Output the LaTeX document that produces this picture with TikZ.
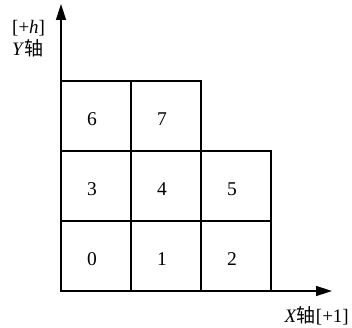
\documentclass[tikz,border=0pt]{standalone}
\usepackage{fontspec}
\setmainfont{Liberation Serif}
\newfontfamily\cjk{Noto Sans CJK SC}
\usetikzlibrary{arrows.meta}
\begin{document}
\begin{tikzpicture}[x=1pt,y=-1pt,
  cell/.style={draw, line width=1.5pt, minimum size=70pt, inner sep=0pt},
  num/.style={font=\fontsize{19.5}{20}\selectfont, inner sep=0pt},
  lbl/.style={font=\fontsize{19}{20}\selectfont, inner sep=0pt},
  axis/.style={line width=1.5pt, -{Triangle[length=16pt,width=10pt]}}]
\useasboundingbox (0,0) rectangle (352,328);
\foreach \n/\x/\y in {0/96/256,1/166/256,2/236/256,3/96/186,4/166/186,5/236/186,6/96/116,7/166/116}{
  \node[cell] (c\n) at (\x,\y) {};
  \node[num] (t\n) at ([xshift=-4pt,yshift=-3pt]c\n.center) {\n};
}
\coordinate (O) at (61,291);
\coordinate (XE) at (332,291);
\coordinate (YE) at (61,4);
\draw[axis] (O) -- (XE);
\draw[axis] (O) -- (YE);
\node[lbl, anchor=west] (hl) at (12,28) {[+\textit{h}]};
\node[lbl, anchor=west] (yl) at (12,48) {\textit{Y}{\cjk 轴}};
\node[lbl, anchor=east] (xl) at (349,316) {\textit{X}{\cjk 轴}[+1]};
\end{tikzpicture}
\end{document}
